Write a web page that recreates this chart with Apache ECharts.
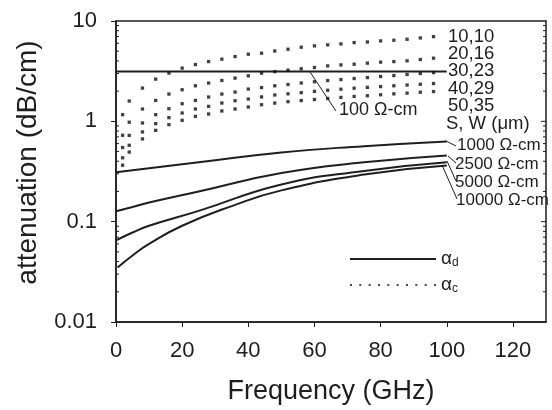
<!DOCTYPE html>
<html>
<head>
<meta charset="utf-8">
<script src="https://cdn.jsdelivr.net/npm/echarts@6/dist/echarts.min.js"></script>
<style>
html,body{margin:0;padding:0;background:#fff;}
#c{width:552px;height:410px;}
</style>
</head>
<body>
<div id="c"></div>
<script>
// ---- data ----
const dotFreq = [2,4,8,12,16,20,24,28,32,36,40,44,48,52,56,60,64,68,72,76,80,84,88,92,96];
const ac_10_10 = [1.165,1.593,2.145,2.635,3.023,3.39,3.681,3.941,4.165,4.42,4.669,4.777,5.03,5.23,5.48,5.65,5.78,5.91,6.09,6.18,6.33,6.43,6.58,6.78,6.98];
const ac_20_16 = [0.726,0.98,1.327,1.615,1.87,2.064,2.262,2.406,2.553,2.697,2.842,3.02,3.13,3.24,3.34,3.44,3.57,3.65,3.71,3.80,3.89,3.94,4.01,4.13,4.26];
const ac_30_23 = [0.548,0.724,0.963,1.165,1.336,1.498,1.615,1.747,1.87,1.957,2.097,2.17,2.26,2.33,2.41,2.48,2.55,2.61,2.67,2.73,2.80,2.86,2.93,3.0,3.06];
const ac_40_29 = [0.433,0.577,0.784,0.948,1.088,1.211,1.327,1.409,1.522,1.604,1.668,1.75,1.83,1.88,1.93,1.99,2.04,2.09,2.14,2.18,2.22,2.26,2.30,2.34,2.38];
const ac_50_35 = [0.365,0.494,0.668,0.813,0.927,1.022,1.12,1.184,1.268,1.327,1.389,1.464,1.52,1.57,1.61,1.65,1.69,1.73,1.77,1.80,1.84,1.88,1.91,1.95,1.98];

const ad_100_f = [0, 100];
const ad_100 = [3.14, 3.14];
const ad_1000_f = [0, 10, 25, 50, 75, 100];
const ad_1000 = [0.31, 0.34, 0.39, 0.49, 0.565, 0.63];
const ad_2500_f = [0, 5, 10, 25, 50, 75, 100];
const ad_2500 = [0.127, 0.14, 0.155, 0.20, 0.305, 0.39, 0.457];
const ad_5000_f = [0, 5, 10, 25, 50, 75, 100];
const ad_5000 = [0.065, 0.078, 0.091, 0.128, 0.235, 0.32, 0.39];
const ad_10000_f = [0.5, 5, 10, 20, 35, 50, 75, 100];
const ad_10000 = [0.035, 0.046, 0.06, 0.091, 0.143, 0.205, 0.295, 0.363];

const xTickLabels = ['0','20','40','60','80','100','120'];
const yTickLabels = {0.01:'0.01', 0.1:'0.1', 1:'1', 10:'10'};
const minorTickVals = [0.02,0.03,0.04,0.05,0.06,0.07,0.08,0.09,0.2,0.3,0.4,0.5,0.6,0.7,0.8,0.9,2,3,4,5,6,7,8,9];
const majorTickVals = [0.1, 1];

// ---- build ----
const INK = '#1e1e1e';
const FONT = 'Liberation Sans, Arial, sans-serif';
const zip = (xs, ys) => xs.map((x, i) => [x, ys[i]]);

const dotPath = (() => {
  let p = 'path://';
  for (let i = 0; i < 10; i++) { const x = i * 9.4; p += 'M' + x + ',0h2v2h-2z'; }
  return p;
})();

const solid = (f, v) => ({
  name: 'αd', type: 'line', data: zip(f, v), smooth: true, showSymbol: false,
  lineStyle: { color: INK, width: 2 }, itemStyle: { color: INK }, z: 3, silent: true
});
const dots = (v) => ({
  name: 'αc', type: 'scatter', data: zip(dotFreq, v), symbol: 'rect', symbolSize: 3.3,
  itemStyle: { color: '#111' }, z: 4, silent: true
});

const tickSeries = (vals, len, both) => ({
  type: 'custom', silent: true, clip: false, z: 6,
  data: vals.map(v => [0, v]),
  renderItem: (params, api) => {
    const v = api.value(1);
    const pl = api.coord([0, v]);
    const pr = api.coord([130, v]);
    const children = [{ type: 'line', shape: { x1: pr[0] - len, y1: pr[1], x2: pr[0], y2: pr[1] }, style: { stroke: INK, lineWidth: 1 } }];
    if (both) children.push({ type: 'line', shape: { x1: pl[0], y1: pl[1], x2: pl[0] + len, y2: pl[1] }, style: { stroke: INK, lineWidth: 1 } });
    return { type: 'group', children };
  }
});

const txt = (s, x, y, size) => ({
  type: 'text', left: x, top: y - size * 0.6, style: { text: s, fill: INK, font: size + 'px ' + FONT }
});
const seg = (x1, y1, x2, y2) => ({
  type: 'line', shape: { x1, y1, x2, y2 }, style: { stroke: INK, lineWidth: 1 }
});

const chart = echarts.init(document.getElementById('c'), null, { renderer: 'canvas' });
chart.setOption({
  backgroundColor: '#fff',
  animation: false,
  grid: { left: 116, right: 6, top: 21, bottom: 87, show: true, borderColor: INK, borderWidth: 1.5, backgroundColor: 'transparent' },
  xAxis: {
    type: 'value', min: 0, max: 130, interval: 20,
    name: 'Frequency (GHz)', nameLocation: 'middle', nameGap: 56,
    nameTextStyle: { color: INK, fontSize: 27, fontFamily: FONT },
    axisLine: { show: true, lineStyle: { color: INK, width: 1.5 } },
    axisTick: { show: true, inside: false, length: 5, lineStyle: { color: INK } },
    axisLabel: { color: INK, fontSize: 22, fontFamily: FONT, margin: 18, showMaxLabel: false,
      formatter: v => { const i = Math.round(v / 20); return (v % 20 === 0 && xTickLabels[i] !== undefined) ? xTickLabels[i] : ''; } },
    splitLine: { show: false }
  },
  yAxis: {
    type: 'log', logBase: 10, min: 0.01, max: 10,
    name: 'attenuation (dB/cm)', nameLocation: 'middle', nameGap: 74,
    nameTextStyle: { color: INK, fontSize: 28, fontFamily: FONT, padding: [0, 0, 0, 18] },
    axisLine: { show: true, lineStyle: { color: INK, width: 1.5 } },
    axisTick: { show: true, inside: false, length: 5, lineStyle: { color: INK } },
    axisLabel: { color: INK, fontSize: 22, fontFamily: FONT, margin: 19,
      formatter: v => { for (const k in yTickLabels) { if (Math.abs(Math.log10(v) - Math.log10(+k)) < 1e-6) return yTickLabels[k]; } return ''; } },
    splitLine: { show: false }
  },
  legend: {
    left: 345, top: 244, orient: 'vertical', itemWidth: 86, itemHeight: 2, itemGap: 6,
    selectedMode: false,
    data: [{ name: 'αd', icon: 'rect' }, { name: 'αc', icon: dotPath }],
    formatter: name => '{a|α}{s|' + name.slice(1) + '}',
    textStyle: { color: INK, fontFamily: FONT, lineHeight: 20,
      rich: { a: { fontSize: 19, fontFamily: FONT, color: INK, lineHeight: 20 },
              s: { fontSize: 12, fontFamily: FONT, color: INK, verticalAlign: 'bottom', lineHeight: 12, padding: [8, 0, 0, 0] } } },
    itemStyle: { color: INK }
  },
  series: [
    solid(ad_100_f, ad_100),
    solid(ad_1000_f, ad_1000),
    solid(ad_2500_f, ad_2500),
    solid(ad_5000_f, ad_5000),
    solid(ad_10000_f, ad_10000),
    dots(ac_10_10), dots(ac_20_16), dots(ac_30_23), dots(ac_40_29), dots(ac_50_35),
    tickSeries(minorTickVals, 3, true),
    tickSeries(majorTickVals, 5, false)
  ],
  graphic: [
    txt('10,10', 448, 39, 18.5),
    txt('20,16', 448, 56, 18.5),
    txt('30,23', 448, 73, 18.5),
    txt('40,29', 448, 91, 18.5),
    txt('50,35', 448, 108, 18.5),
    txt('S, W (μm)', 446, 126, 18.5),
    txt('100 Ω-cm', 339, 112, 18),
    txt('1000 Ω-cm', 457, 147, 17),
    txt('2500 Ω-cm', 455, 166, 17),
    txt('5000 Ω-cm', 455, 184, 17),
    txt('10000 Ω-cm', 456, 202, 17),
    seg(310, 72, 336, 111),
    seg(446, 141, 456, 146),
    seg(448, 156, 456, 163),
    seg(447, 161, 456, 181),
    seg(442, 165, 457, 199)
  ]
});
</script>
</body>
</html>
